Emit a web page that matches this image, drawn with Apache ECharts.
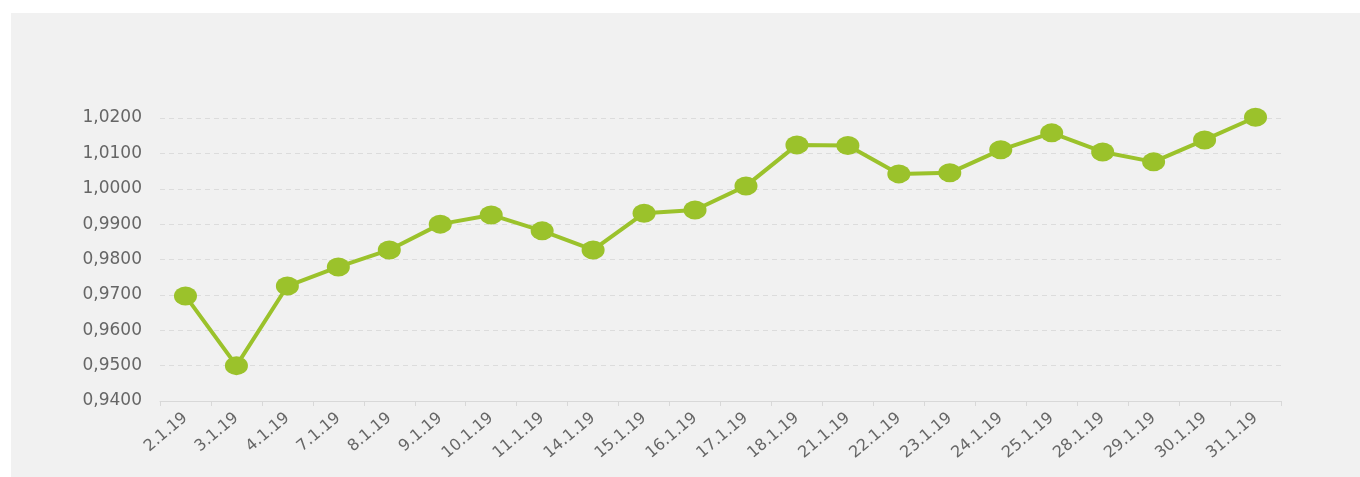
<!DOCTYPE html>
<html>
<head>
<meta charset="utf-8">
<script src="https://cdn.jsdelivr.net/npm/echarts@6/dist/echarts.min.js"></script>
<style>
  html, body { margin: 0; padding: 0; background: #fff; }
  #panel { position: absolute; left: 11px; top: 13px; width: 1349px; height: 464px; background: #f1f1f1; }
</style>
</head>
<body>
<div id="panel"></div>
<script>
// dates (dd.m.yy)
const categories = ['2.1.19', '3.1.19', '4.1.19', '7.1.19', '8.1.19', '9.1.19', '10.1.19', '11.1.19',
  '14.1.19', '15.1.19', '16.1.19', '17.1.19', '18.1.19', '21.1.19', '22.1.19', '23.1.19',
  '24.1.19', '25.1.19', '28.1.19', '29.1.19', '30.1.19', '31.1.19']
const values = [0.9697, 0.9500, 0.9725, 0.9779, 0.9827, 0.9900, 0.9926, 0.9881,
  0.9827, 0.9931, 0.9940, 1.0008, 1.0124, 1.0122, 1.0042, 1.0045,
  1.0110, 1.0158, 1.0104, 1.0076, 1.0138, 1.0202]
const yMin = 0.94
const yMax = 1.02
const yStep = 0.01

const chart = echarts.init(document.getElementById('panel'))
chart.setOption({
  animation: false,
  grid: {
    left: 149,
    top: 105,
    width: 1121,
    height: 283
  },
  xAxis: {
    type: 'category',
    data: categories,
    boundaryGap: true,
    axisLine: { lineStyle: { color: '#d8d8d8', width: 1 } },
    axisTick: { show: true, length: 5, lineStyle: { color: '#d8d8d8' } },
    axisLabel: {
      rotate: 40,
      interval: 0,
      margin: 15,
      color: '#666',
      fontFamily: 'DejaVu Sans, sans-serif',
      fontSize: 16
    }
  },
  yAxis: {
    type: 'value',
    min: yMin,
    max: yMax,
    interval: yStep,
    axisLine: { show: false },
    axisTick: { show: false },
    axisLabel: {
      margin: 18,
      color: '#666',
      fontFamily: 'DejaVu Sans, sans-serif',
      fontSize: 17,
      formatter: v => v.toFixed(4).replace('.', ',')
    },
    splitLine: {
      lineStyle: { color: '#dcdcdc', type: [5, 4], width: 1 }
    }
  },
  series: [{
    type: 'line',
    data: values,
    clip: false,
    symbol: 'circle',
    symbolSize: [23, 19],
    lineStyle: { color: '#9bc22b', width: 4 },
    itemStyle: { color: '#9bc22b' }
  }]
})
</script>
</body>
</html>
